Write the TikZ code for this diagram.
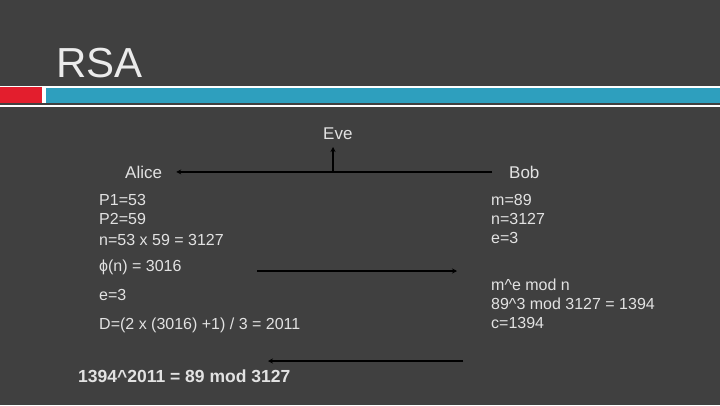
\documentclass[tikz,border=0pt]{standalone}
\usepackage{fontspec}
\setmainfont{Liberation Sans}
\usetikzlibrary{arrows.meta}
\definecolor{slide}{HTML}{404040}
\definecolor{txt}{HTML}{E2E2E2}
\definecolor{barred}{HTML}{E31E2D}
\definecolor{barblue}{HTML}{2E9FBE}

\begin{document}
\begin{tikzpicture}[x=1pt,y=-1pt,
    every node/.style={inner sep=0pt,text=txt,anchor=base west,font=\fontsize{16}{19}\selectfont},
    party/.style={font=\fontsize{17}{20}\selectfont},
    msg/.style={line width=1.8pt,-{Stealth[length=5pt,width=5pt]}}]
  \fill[slide] (0,0) rectangle (720,405);
  \useasboundingbox (0,0) rectangle (720,405);
  % title and bar
  \node[font=\fontsize{42}{48}\selectfont,text=white!92!black] (title) at (56,77) {RSA};
  \fill[white] (0,85.7) rectangle (720,103.3);
  \fill[white] (0,105.3) rectangle (720,106.7);
  \fill[barred] (0,87.3) rectangle (42,103.3);
  \fill[barblue] (46,87.6) rectangle (720,103.3);

  \node[party] (eve) at (323,139) {Eve};
  \node[party] (alice) at (125,178) {Alice};
  \node[party] (bob) at (509,178) {Bob};
  \coordinate (tap) at (333,172);
  \coordinate (evefoot) at (333,147);
  \draw[msg] ([xshift=-17pt]bob.west) -- ([xshift=14pt]alice.east);
  \draw[msg] (tap) -- (evefoot);

  % Alice
  \foreach \nm/\y/\t in {p1/205/P1=53, p2/224/P2=59, na/245/{n=53 x 59 = 3127},
      phi/271/{ϕ(n) = 3016}, ea/300/e=3, d/329/{D=(2 x (3016) +1) / 3 = 2011}}
    \node (\nm) at (99,\y) {\t};
  \node[font=\bfseries\fontsize{17.5}{21}\selectfont] (res) at (78,382)
    {1394\textasciicircum 2011 = 89 mod 3127};

  % Bob
  \foreach \nm/\y/\t in {m/205/m=89, nb/224/n=3127, eb/243/e=3,
      me/290/{m\textasciicircum e mod n}, ct/309/{89\textasciicircum 3 mod 3127 = 1394}, c/328/c=1394}
    \node (\nm) at (491,\y) {\t};

  \coordinate (s1) at (257,271);
  \coordinate (t1) at (457,271);
  \coordinate (s2) at (463,361);
  \coordinate (t2) at (268,361);
  \draw[msg] (s1) -- (t1);
  \draw[msg] (s2) -- (t2);
\end{tikzpicture}
\end{document}
